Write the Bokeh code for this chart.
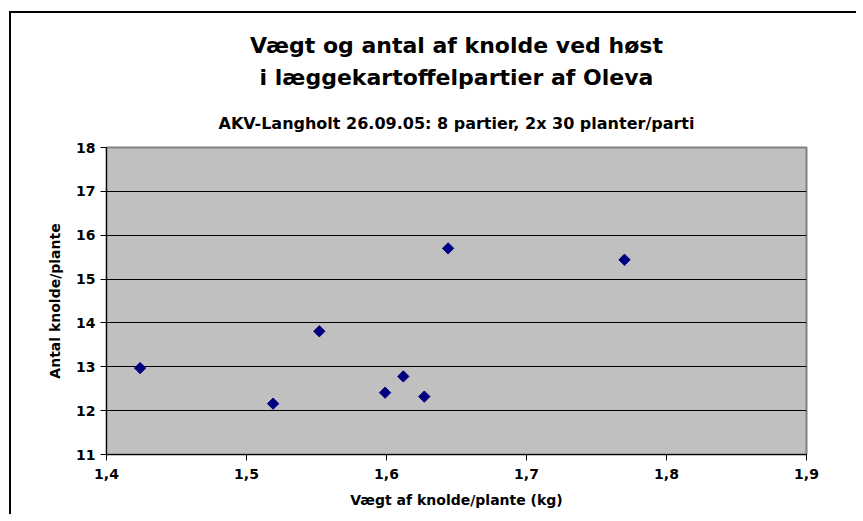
from bokeh.plotting import figure
from bokeh.models import FixedTicker, Title, Range1d
from bokeh.embed import file_html
from bokeh.resources import INLINE
import numpy as np

# data
weight = [1.424, 1.519, 1.552, 1.599, 1.612, 1.627, 1.644, 1.770]
count = [12.97, 12.16, 13.81, 12.41, 12.78, 12.32, 15.70, 15.44]
x_ticks = [1.4, 1.5, 1.6, 1.7, 1.8, 1.9]
x_tick_labels = ["1,4", "1,5", "1,6", "1,7", "1,8", "1,9"]
y_ticks = [11, 12, 13, 14, 15, 16, 17, 18]

title_line1 = "Vægt og antal af knolde ved høst"
title_line2 = "i læggekartoffelpartier af Oleva"
subtitle_text = "AKV-Langholt 26.09.05: 8 partier, 2x 30 planter/parti"
x_label = "Vægt af knolde/plante (kg)"
y_label = "Antal knolde/plante"

FONT = "DejaVu Sans"

p = figure(frame_width=700, frame_height=307,
           min_border_left=95, min_border_right=50,
           min_border_top=134, min_border_bottom=60,
           x_range=Range1d(1.4, 1.9), y_range=Range1d(11, 18),
           output_backend="svg", toolbar_location=None,
           background_fill_color="#C0C0C0", border_fill_color="white",
           title=None)

p.styles = {"border-left": "2px solid black", "border-top": "2px solid black",
            "margin-left": "9px", "margin-top": "11px"}

p.outline_line_color = "#808080"
p.outline_line_width = 2

p.xgrid.visible = False
p.ygrid.ticker = FixedTicker(ticks=y_ticks)
p.ygrid.grid_line_color = "black"
p.ygrid.grid_line_width = 1

p.xaxis.ticker = FixedTicker(ticks=x_ticks)
p.xaxis.major_label_overrides = {t: l for t, l in zip(x_ticks, x_tick_labels)}
p.yaxis.ticker = FixedTicker(ticks=y_ticks)

for ax in (p.xaxis, p.yaxis):
    ax.axis_line_color = "black"
    ax.axis_line_width = 1
    ax.major_tick_line_color = "black"
    ax.major_tick_out = 6
    ax.major_tick_in = 0
    ax.minor_tick_line_color = None
    ax.major_label_text_font = FONT
    ax.major_label_text_font_style = "bold"
    ax.major_label_text_font_size = "14px"
    ax.major_label_text_color = "black"
    ax.axis_label_text_font = FONT
    ax.axis_label_text_font_style = "bold"
    ax.axis_label_text_font_size = "14px"
    ax.axis_label_text_color = "black"

p.xaxis.axis_label = x_label
p.yaxis.axis_label = y_label
p.xaxis.major_label_standoff = 8
p.yaxis.major_label_standoff = 5
p.xaxis.axis_label_standoff = 10
p.yaxis.axis_label_standoff = 10

sub = Title(text=subtitle_text, align="center", text_font=FONT,
            text_font_style="bold", text_font_size="16px", text_color="black",
            standoff=29)
t2 = Title(text=title_line2, align="center", text_font=FONT,
           text_font_style="bold", text_font_size="22px", text_color="black",
           standoff=16)
t1 = Title(text=title_line1, align="center", text_font=FONT,
           text_font_style="bold", text_font_size="22px", text_color="black",
           standoff=-7)
p.add_layout(sub, "above")
p.add_layout(t2, "above")
p.add_layout(t1, "above")

p.scatter(weight, count, marker="square", angle=np.pi / 4, size=8,
          fill_color="#000080", line_color="#000080")

open("out.html", "w").write(file_html(p, INLINE))
